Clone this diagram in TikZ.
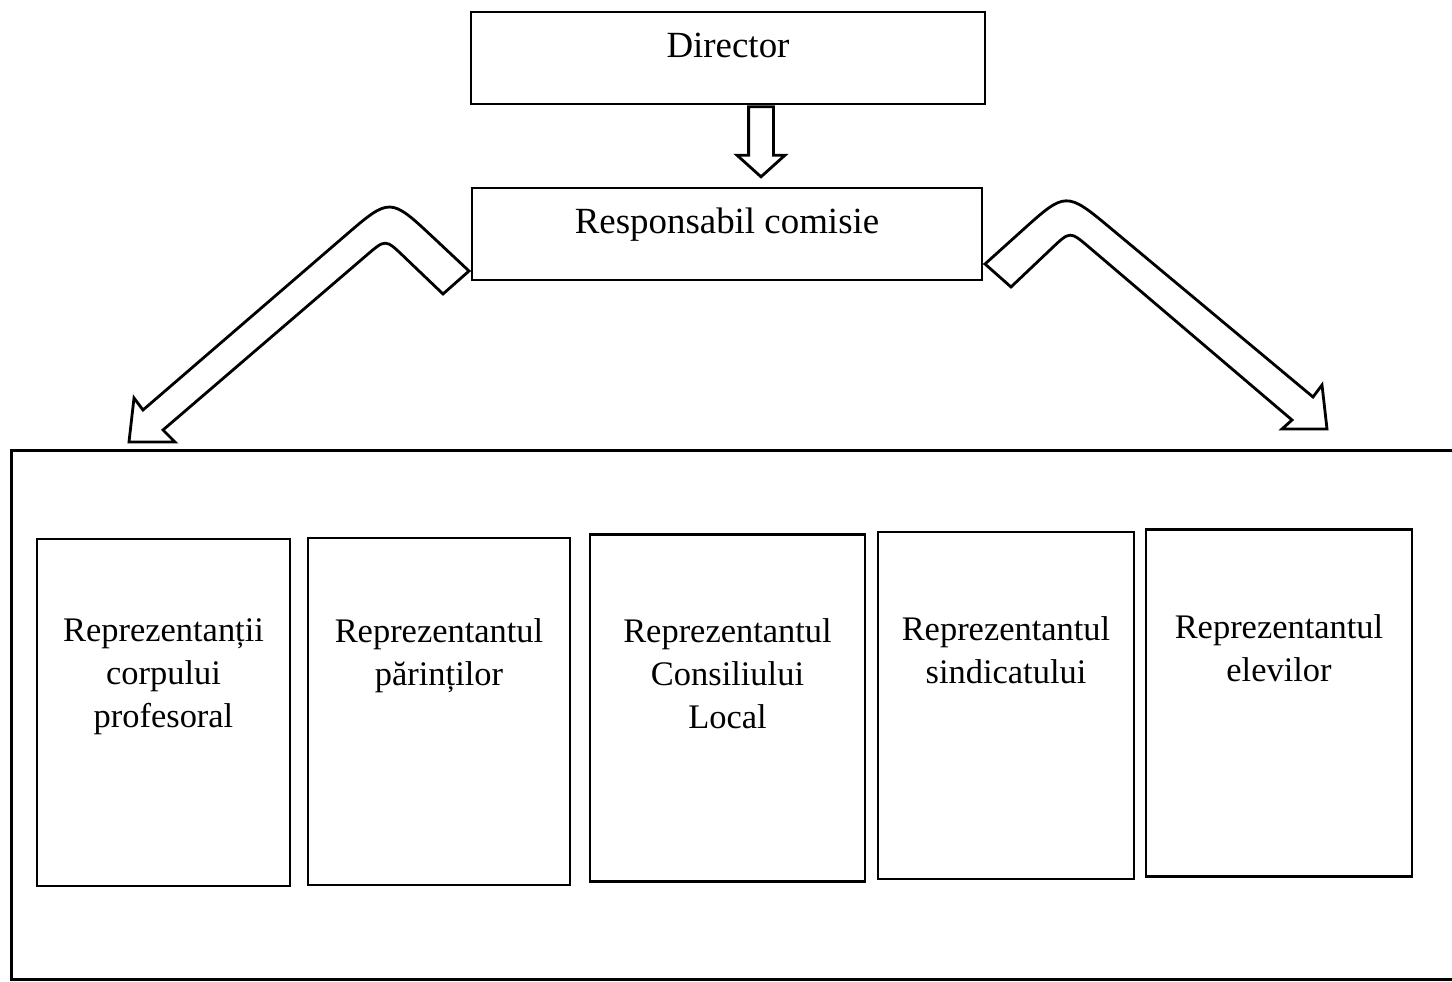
\documentclass[tikz,border=0pt]{standalone}
\usepackage{fontspec}
\setmainfont{Liberation Serif}
\usetikzlibrary{calc,shapes.arrows}

\begin{document}
\begin{tikzpicture}[
    cutie/.style={draw, line width=0.8pt, inner sep=0pt},
    sus/.style={cutie, minimum width=5.1cm, minimum height=0.92cm, font=\fontsize{10.5}{12.6}\selectfont, text height=2.6mm, text depth=2.6mm},
    membru/.style={cutie, minimum height=3.47cm},
    eticheta/.style={align=center, font=\fontsize{9.8}{12.2}\selectfont},
    sageata/.style={draw, line width=0.8pt, fill=white, line join=miter}
]
    % 範囲
    \useasboundingbox (0,0) rectangle (14.52,-9.82);
    \clip (0,0) rectangle (14.52,-9.82);

    % 上の箱
    \node[sus, minimum width=5.14cm] (dir) at (7.28,-0.58) {Director};
    \node[sus] (resp) at (7.27,-2.34) {Responsabil comisie};
    \node[sageata, single arrow, rotate=-90, anchor=tail, inner sep=1.1mm,
          minimum height=0.70cm, single arrow head extend=1.15mm,
          single arrow tip angle=96] (jos) at ([xshift=3.3mm]dir.south) {};

    % 外枠
    \node[cutie, anchor=north west, minimum width=14.6cm, minimum height=5.29cm] (grup) at (0.10,-4.49) {};

    % 中の箱
    \foreach \i/\cx/\cy/\w/\ty/\txt in {
        1/1.635/7.125/2.53/6.77/{Reprezentanții\\corpului\\profesoral},
        2/4.39/7.115/2.62/6.56/{Reprezentantul\\părinților},
        3/7.275/7.08/2.75/6.74/{Reprezentantul\\Consiliului\\Local},
        4/10.06/7.055/2.56/6.505/{Reprezentantul\\sindicatului},
        5/12.79/7.03/2.66/6.48/{Reprezentantul\\elevilor}} {
        \node[membru, minimum width=\w cm] (m\i) at (\cx,-\cy) {};
        \node[eticheta] (e\i) at (\cx,-\ty) {\txt};
    }

    % 左の矢印
    \coordinate (l1) at (4.69,-2.71);
    \coordinate (l2) at (4.43,-2.94);
    \coordinate (loc) at (3.90,-1.97);
    \coordinate (lic) at (3.855,-2.39);
    \coordinate (lh1) at (1.43,-4.10);
    \coordinate (lb1) at (1.34,-3.98);
    \coordinate (lp) at (1.29,-4.42);
    \coordinate (lb2) at (1.75,-4.42);
    \coordinate (lh2) at (1.63,-4.30);
    \draw[sageata] (l1) -- ($(loc)!0.6cm!(l1)$) .. controls (loc) .. ($(loc)!0.6cm!(lh1)$)
        -- (lh1) -- (lb1) -- (lp) -- (lb2) -- (lh2)
        -- ($(lic)!0.25cm!(lh2)$) .. controls (lic) .. ($(lic)!0.25cm!(l2)$) -- (l2) -- cycle;

    % 右の矢印
    \coordinate (r1) at (9.85,-2.64);
    \coordinate (r2) at (10.11,-2.87);
    \coordinate (roc) at (10.66,-1.91);
    \coordinate (ric) at (10.70,-2.31);
    \coordinate (rh1) at (13.13,-3.97);
    \coordinate (rb1) at (13.22,-3.85);
    \coordinate (rp) at (13.27,-4.29);
    \coordinate (rb2) at (12.82,-4.29);
    \coordinate (rh2) at (12.92,-4.20);
    \draw[sageata] (r1) -- ($(roc)!0.6cm!(r1)$) .. controls (roc) .. ($(roc)!0.6cm!(rh1)$)
        -- (rh1) -- (rb1) -- (rp) -- (rb2) -- (rh2)
        -- ($(ric)!0.25cm!(rh2)$) .. controls (ric) .. ($(ric)!0.25cm!(r2)$) -- (r2) -- cycle;
\end{tikzpicture}
\end{document}
